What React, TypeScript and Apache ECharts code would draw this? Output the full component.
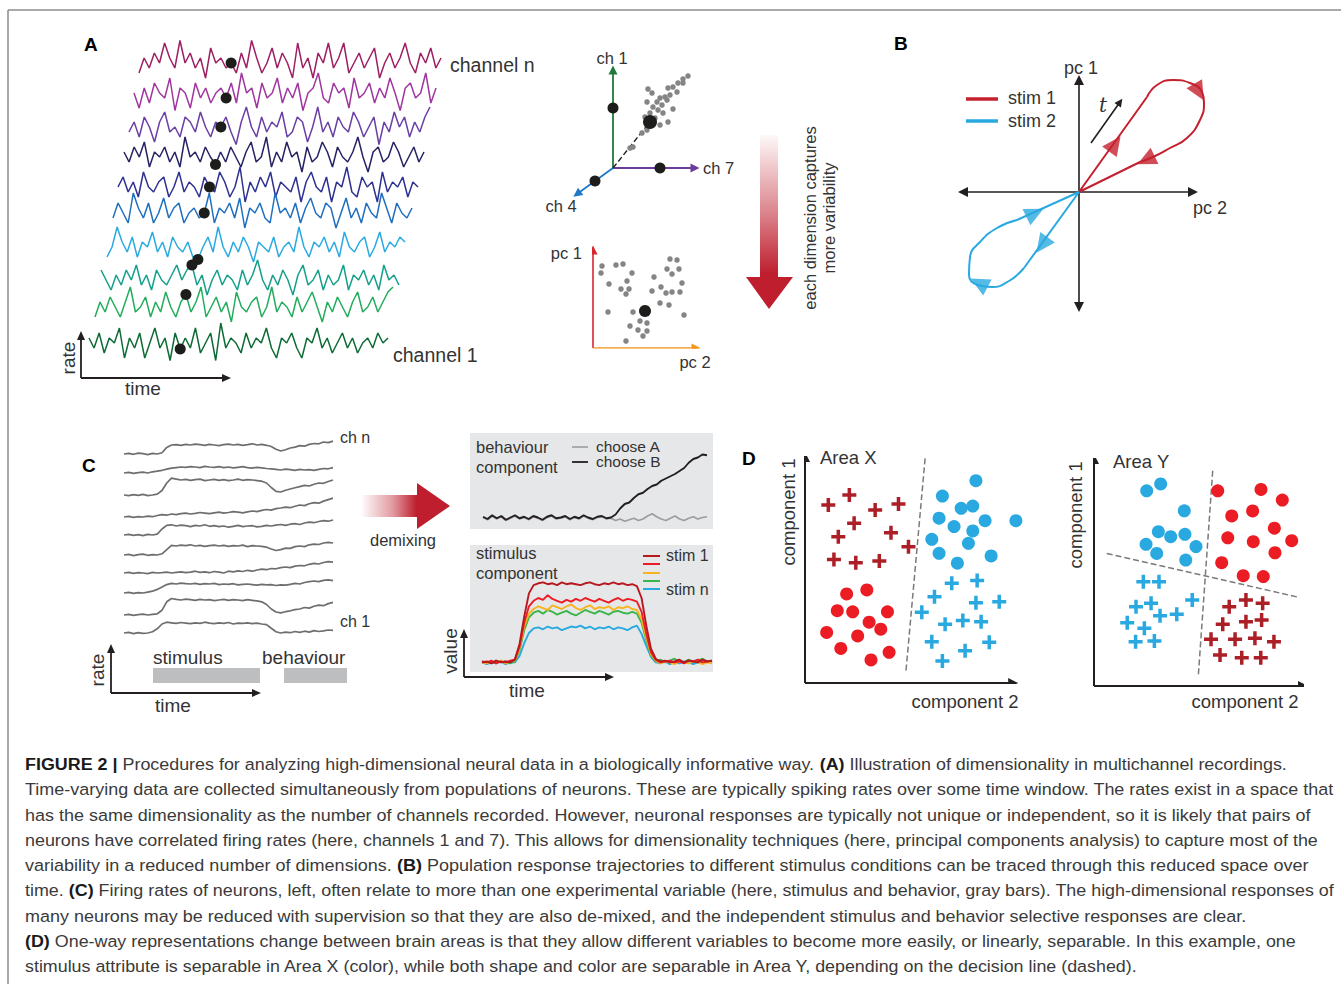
import React, { useEffect, useRef } from 'react';
import * as echarts from 'echarts';

const FONT = '"Liberation Sans", Arial, Helvetica, sans-serif';
const INK = '#333333';

// ---------------- DATA ----------------
// Panel A: firing rates of ten channels (channel n at top ... channel 1 at bottom), 0-10 scale
const chA0 = [3,6,4,7,5,9,6,4,9.5,5, 7,4,6,2,8,5,6,4,5,3, 7,4,9.5,6,3,5,8,4,7,5, 2,9,4,6,2,7,5,9,4,6, 9,3,5,7,4,6,8,2,5,7, 4,6,9,5,3,7,5,8,4,6];
const chA1 = [5,2,6,3,7,5,4,8,1.5,6, 5,2,7,4,6,3,5,6,4,7, 3,9,5,6,2,7,4,5,8,3, 6,4,7,1.5,5,6,9,4,3,7, 5,6,2,8,4,5,7,3,6,4, 8,5,1.5,6,7,4,5,9,3,6];
const chA2 = [4,6,3,7,5,2,6,8,4,5, 3,7,6,4,8,5,3,6,5,7, 4,1.5,6,9,5,3,7,4,6,5, 8,3,4,7,6,2,5,9,4,6, 3,7,5,4,8,6,3,5,7,1.5, 6,4,8,5,7,3,6,4,7,9];
const chA3 = [6,4,7,5,8,3,6,5,7,4, 6,3,9,5,6,4,7,5,3.5,6, 4,7,5,3,6,8,4,5,9,3, 6,4,8,5,6,2,7,4,5,8, 6,3,7,5,4,6,9,5,2,6, 7,4,5,8,6,3,5,7,4,6];
const chA4 = [5,7,4,6,3,8,5,4,6,7, 3,5,8,4,6,5,3,7,5,4, 8,6,3,5,9,2,6,4,7,5, 8,3,6,5,4,7,2,6,8,5, 4,7,2,6,5,9,4,3,7,5, 6,2,8,4,6,5,7,3,6,5];
const chA5 = [4,7,5,3,9,6,4,7,3,5, 8,4,6,7,3,5,6,4,5,9, 3,6,5,7,4,8,2,6,5,7, 4,3,9,5,6,4,7,3,6,8, 5,4,7,6,2,5,8,4,6,3, 7,5,4,9,6,3,7,5,4,6];
const chA6 = [3,5,9,6,4,7,3,6,5,8, 4,6,3,7,5,4,6,3,2.5,5, 7,4,9,5,3,6,4,7,5,2, 6,5,4,7,3,5,6,4,9,5, 3,6,5,7,4,6,3,8,5,4, 6,7,3,5,8,4,6,5,7,6];
const chA7 = [7,5,3,6,4,7,5,8,4,6, 3,7,5,4,6,8,5,7,8,4, 6,2,5,7,4,6,5,3,7,4, 6,9,5,3,6,4,7,5,2,6, 8,4,5,7,3,6,4,5,8,3, 6,5,7,4,6,3,8,5,6,4];
const chA8 = [3,6,4,7,5,3,6,9,4,5, 7,3,6,4,8,5,3,6,7.5,4, 6,9,3,5,7,4,6,2,8,5, 4,6,7,3,5,9,4,6,5,3, 7,4,6,8,5,2,6,4,7,5, 3,6,8,4,5,7,4,6,8,9];
const chA9 = [6,4,7,3,6,5,8,2,6,4, 7,2,5,8,4,6,1.5,7,3.8,6, 4,8,3,5,7,1.5,9,4,6,5, 3,7,4,6,5,8,4,2,6,5, 7,4,2,6,5,8,4,6,3,5, 7,4,6,3,5,6,4,7,5,6];
const channelsA = [chA0, chA1, chA2, chA3, chA4, chA5, chA6, chA7, chA8, chA9];
const dotIndexA = 18;
const dotValueA = [5, 4, 5, 3.5, 5, 5, 2.5, 8, 7.5, 3.8];

// Panel A: state space (ch1 / ch7 / ch4) projection
const cloud3d = [[75,92],[70,89],[65,85],[70,85],[60,81],[55,80],[64,76],[57,73],[52,71],[47,70],[54,68],[35,79],[39,75],[34,66],[44,66],[49,63],[40,61],[45,58],[60,59],[50,55],[37,55],[32,51],[42,50],[47,43],[55,46],[34,38],[29,35],[20,21],[17,20]];
const chDots3d = [[0, 60], [47, 0], [-18, -13]];
const bigDot3d = [[37, 46]];
const pcCloud = [[9,82],[23,83],[30,84],[39,75],[8,75],[16,64],[34,67],[28,59],[36,59],[33,54],[15,36],[77,89],[84,88],[74,79],[86,79],[79,74],[61,71],[89,65],[68,61],[59,57],[73,55],[79,56],[87,56],[67,45],[76,43],[91,33],[40,36],[37,22],[47,27],[54,25],[45,18],[54,17],[50,12],[33,7]];
const pcDot = [[52, 37]];

// Panel B: population trajectories in (pc 2, pc 1)
const stim1Legs = [[61, 30], [0, 0], [68, 95]];
const stim1Loop = [[68,95],[78,107],[94,112],[111,109],[123,100],[125,89],[121,72],[108,54],[91,44],[74,35],[61,30]];
const stim2Legs = [[-62, -28], [0, 0], [-55, -76]];
const stim2Loop = [[-55,-76],[-70,-89],[-87,-95],[-101,-93],[-110,-83],[-109,-65],[-99,-50],[-82,-36],[-62,-28]];
const stim1Heads = [[36, 48, -36], [120, 100, -150], [67, 32, 116]];
const stim2Heads = [[-37, -53, 144], [-100, -91, 62], [-44, -21, -64]];
const timeArrow = [[12, 49], [41, 90]];

// Panel C: ten mixed-selectivity neurons (ch n at top ... ch 1 at bottom)
const chC0 = [3,3.2,2.9,3.3,3.1,2.8,3.2,3.0,3.4,5.2, 6.0,6.1,5.9,6.2,6.0,6.3,6.1,5.9,6.2,6.0, 5.8,6.1,6.3,6.0,6.2,5.9,6.1,6.4,6.0,6.2, 5.9,5.5,4.6,4.0,4.4,5.0,5.3,5.8,5.6,6.2, 6.5,6.4,7.0,6.8,7.3];
const chC1 = [3,3.2,2.9,3.1,3.3,3.0,3.4,3.6,3.9,4.3, 4.6,4.8,5.0,4.9,5.1,5.0,4.8,5.2,5.0,4.9, 5.1,4.8,5.0,4.7,4.9,5.1,4.8,4.6,4.9,4.7, 4.5,4.4,4.2,4.0,4.3,4.1,3.9,4.2,4.0,4.1, 3.9,4.2,4.5,4.4,4.8];
const chC2 = [3.0,2.8,3.1,2.9,3.2,2.8,3.0,3.3,4.5,7.0, 8.6,8.3,8.0,8.2,7.9,8.1,8.3,7.8,8.0,8.2, 7.9,8.1,7.8,8.0,8.3,7.9,8.1,8.0,7.8,7.6, 7.0,5.5,4.2,4.0,4.6,5.0,5.4,5.8,6.2,6.0, 6.6,7.0,6.9,7.5,8.0];
const chC3 = [3.0,3.2,2.9,3.1,3.0,3.3,3.1,3.5,3.8,3.6, 4.0,3.8,4.1,4.3,4.0,4.2,4.5,4.3,4.1,4.4, 4.6,4.3,4.5,4.8,4.6,4.4,4.7,5.0,4.8,5.2, 5.5,5.3,5.8,6.0,6.3,6.1,6.6,7.0,6.8,7.4, 7.8,7.6,8.3,8.8,9.3];
const chC4 = [3.0,3.2,2.9,3.1,2.8,3.2,3.0,3.3,5.0,6.2, 6.4,6.0,6.3,6.1,5.8,6.2,6.0,6.4,5.9,6.1, 5.8,6.0,5.6,5.9,6.2,5.8,6.0,6.1,5.7,5.9, 6.2,6.0,6.3,6.5,6.2,6.6,6.8,6.5,7.0,7.3, 7.1,7.5,7.8,7.6,8.0];
const chC5 = [3.0,3.2,2.8,3.1,3.3,2.9,3.1,3.0,3.4,4.8, 6.2,6.0,6.3,6.1,6.4,6.0,6.2,5.9,6.1,6.3, 6.0,6.2,5.9,6.1,6.0,6.3,5.8,6.1,6.0,5.9, 5.6,5.0,4.5,4.8,5.3,5.2,5.8,6.0,5.8,6.4, 6.6,6.5,7.0,7.2,7.0];
const chC6 = [3.0,3.2,2.9,3.1,3.0,2.8,3.2,3.0,3.1,3.3, 3.0,3.2,3.4,3.1,3.3,3.6,3.2,3.4,3.1,3.5, 3.3,3.0,3.6,3.4,3.7,3.5,3.9,3.6,4.0,4.3, 4.1,4.5,4.4,4.8,5.0,4.8,5.3,5.5,5.4,5.9, 6.2,6.0,6.5,6.8,6.6];
const chC7 = [3.0,3.2,2.9,3.1,3.0,3.3,3.6,4.2,5.0,5.8, 6.2,6.0,6.3,6.1,6.0,6.2,5.9,6.1,6.0,6.2, 5.8,6.0,5.9,6.1,5.7,5.9,6.0,5.8,5.6,5.9, 5.7,5.8,5.5,5.7,5.6,5.9,6.2,6.0,6.5,6.8, 7.0,6.8,7.2,7.4,7.1];
const chC8 = [3.0,3.2,2.9,3.1,3.3,3.0,3.2,3.4,4.6,7.4, 8.5,8.2,8.0,8.3,8.1,7.9,8.2,8.0,8.1,7.8, 8.0,8.2,7.9,8.1,8.0,7.8,8.1,7.9,7.7,7.4, 6.5,5.0,4.0,3.7,4.1,4.4,4.8,5.0,5.5,5.3, 5.9,6.3,6.1,6.8,7.2];
const chC9 = [3.0,3.2,2.8,3.1,2.9,3.0,3.4,4.4,6.0,6.6, 6.4,6.2,6.5,6.3,6.1,6.4,6.2,6.6,6.3,6.1, 6.4,6.2,6.5,6.0,6.3,6.2,6.4,6.1,6.3,6.0, 5.8,4.6,3.4,3.0,3.3,3.1,3.5,3.2,3.6,3.3, 3.8,3.5,3.7,4.0,3.9];
const channelsC = [chC0, chC1, chC2, chC3, chC4, chC5, chC6, chC7, chC8, chC9];

// Panel C: demixed components
const chooseA = [1.0,0.7,1.2,0.8,1.1,0.6,0.9,1.2,0.8,1.0, 0.7,1.1,0.9,0.6,1.0,1.2,0.8,0.9,1.1,0.7, 1.0,0.8,1.2,0.9,0.7,1.0,1.1,0.8,0.9,0.6, 0.8,0.5,0.7,0.9,0.6,0.8,1.2,1.5,1.1,0.8, 0.6,0.9,1.2,0.8,0.6,0.9,1.1,0.8,1.0,1.1];
const chooseB = [1.1,0.8,1.3,0.9,1.2,0.7,1.0,1.3,0.9,1.1, 0.8,1.2,1.0,0.7,1.1,1.3,0.9,1.0,1.2,0.8, 1.1,0.9,1.3,1.0,0.8,1.1,1.2,0.9,1.0,1.4, 2.2,2.8,3.0,3.6,4.1,4.3,4.8,5.2,5.4,5.9, 6.2,6.5,6.8,7.2,7.6,8.3,8.8,9.0,9.4,9.3];
const stimA = [0.5,0.6,0.4,0.7,0.5,0.6,0.5,0.8,2.5,5.5, 8.0,8.9,9.1,9.2,9.0,9.1,8.9,9.2,9.0,9.1, 9.0,8.9,9.1,9.2,9.0,8.9,9.1,9.0,9.2,9.0, 9.1,8.9,9.0,8.8,7.5,4.5,2.0,0.9,0.6,0.7, 0.5,0.6,0.8,0.5,0.7,0.6,0.5,0.8,0.6,0.7];
const stimB = [0.6,0.5,0.7,0.4,0.6,0.5,0.7,0.8,2.2,4.8, 6.6,7.2,7.5,7.3,7.8,7.4,7.2,7.0,7.3,7.1, 7.4,7.2,7.5,7.3,7.1,7.4,7.2,7.0,7.3,7.5, 7.2,7.4,7.3,7.1,6.0,3.6,1.6,0.8,0.5,0.6, 0.7,0.5,0.6,0.4,0.7,0.6,0.8,0.5,0.6,0.7];
const stimC = [0.5,0.4,0.6,0.5,0.7,0.4,0.6,0.7,2.0,4.4, 5.8,6.3,6.6,6.4,6.2,6.7,6.5,6.3,6.6,6.8, 6.4,6.2,6.5,6.7,6.3,6.5,6.4,6.6,6.2,6.5, 6.4,6.6,6.3,6.2,5.2,3.2,1.4,0.7,0.4,0.6, 0.5,0.3,0.6,0.5,0.4,0.6,0.5,0.3,0.5,0.4];
const stimD = [0.6,0.5,0.4,0.7,0.5,0.6,0.4,0.6,1.8,4.0, 5.4,5.9,6.1,5.8,6.2,6.0,5.7,5.9,6.1,5.8, 5.6,5.9,6.2,6.0,5.8,6.1,5.9,5.7,6.0,6.1, 5.9,5.8,6.0,5.8,4.8,2.9,1.3,0.6,0.8,0.5, 0.7,0.9,0.6,0.5,0.8,0.6,0.7,0.9,0.6,0.7];
const stimE = [0.5,0.3,0.5,0.4,0.6,0.3,0.5,0.5,1.2,2.6, 3.7,4.2,4.3,4.1,4.4,4.2,4.3,4.0,4.2,4.4, 4.3,4.5,4.2,4.4,4.1,4.3,4.2,4.4,4.1,4.3, 4.2,4.0,4.3,4.5,3.6,2.3,1.1,0.5,0.4,0.6, 0.3,0.5,0.4,0.6,0.5,0.3,0.5,0.4,0.6,0.5];

// Panel D: Area X (component 2, component 1)
const areaXRedPlus = [[11.2,78.8],[21.3,83.2],[33.7,76.5],[44.9,79.2],[23.6,70.7],[16,64.7],[41.3,66.5],[49.7,60.3],[13.9,54.7],[24.4,53.2],[35.7,54]];
const areaXRedDot = [[20,39.4],[29.7,41.2],[15.5,32],[22.9,31.5],[39.6,31.5],[30.8,26.9],[36.4,23.8],[10.4,22.4],[25.3,20.8],[17.2,15.3],[40.4,13.6],[31.7,10.2]];
const areaXBlueDot = [[82.1,89.5],[66,82.7],[75,77.3],[80.6,78.3],[64.4,72.9],[86.5,71.8],[101.3,71.8],[71.6,69.2],[80.6,67.3],[60.9,63.6],[78.5,61.8],[64.4,57.4],[73.2,53],[89.4,56.2]];
const areaXBluePlus = [[70.5,44.1],[82.7,45.3],[62.2,38.2],[82.1,35.5],[93.3,36],[56.1,31.3],[67.3,26],[75.8,27.6],[84.6,27.1],[60.9,18.3],[88.5,18],[76.9,14.3],[66,9.7]];
const areaXBoundary = [[57.7,99.4],[48.4,4.3]];
// Panel D: Area Y
const areaYBlueDot = [[25.2,86],[31.9,89],[43.2,77.2],[30.8,68],[36.7,65.8],[43.5,66.8],[24.9,62.4],[48.8,61.4],[30,58.4],[43.9,55.5]];
const areaYRedDot = [[59.2,86],[79.9,86.6],[90.1,81.9],[65.9,74.9],[75.9,77.1],[86.3,69.5],[64,65.3],[76.2,63.6],[94.6,64],[86.6,58.7],[61.1,54.3],[71.4,48.6],[81,48.2]];
const areaYBluePlus = [[23.6,45.9],[31.1,45.9],[20.1,34.9],[27.3,36.4],[47,37.9],[31.6,31],[39.6,31.6],[15.9,27.9],[24.1,25.4],[19.9,19.5],[28.9,19.8]];
const areaYRedPlus = [[64.7,34.9],[72.7,37.9],[80.7,36.4],[61.6,27.2],[72.7,28.3],[80.2,29.1],[56,20.6],[67.5,20.6],[77,21],[86.1,19.5],[60.3,13.7],[70.7,12.5],[79.8,12.5]];
const areaYBoundary1 = [[56.8,94.8],[49.9,4.4]];
const areaYBoundary2 = [[6.1,58.4],[97.8,39.1]];

// Caption
const captionLines = [
  '{b|FIGURE 2 |} Procedures for analyzing high-dimensional neural data in a biologically informative way. {b|(A)} Illustration of dimensionality in multichannel recordings.',
  'Time-varying data are collected simultaneously from populations of neurons. These are typically spiking rates over some time window. The rates exist in a space that',
  'has the same dimensionality as the number of channels recorded. However, neuronal responses are typically not unique or independent, so it is likely that pairs of',
  'neurons have correlated firing rates (here, channels 1 and 7). This allows for dimensionality techniques (here, principal components analysis) to capture most of the',
  'variability in a reduced number of dimensions. {b|(B)} Population response trajectories to different stimulus conditions can be traced through this reduced space over',
  'time. {b|(C)} Firing rates of neurons, left, often relate to more than one experimental variable (here, stimulus and behavior, gray bars). The high-dimensional responses of',
  'many neurons may be reduced with supervision so that they are also de-mixed, and the independent stimulus and behavior selective responses are clear.',
  '{b|(D)} One-way representations change between brain areas is that they allow different variables to become more easily, or linearly, separable. In this example, one',
  'stimulus attribute is separable in Area X (color), while both shape and color are separable in Area Y, depending on the decision line (dashed).',
];

// ---------------- LAYOUT / STYLE ----------------
const A_COLORS = ['#9e1f63', '#a0369f', '#6a3fa6', '#262364', '#2e3192', '#1f6fc0', '#29abe2', '#14a08a', '#22ad5c', '#0d6b35'];
const A_START = [139, 134, 129, 124, 118, 113, 107, 101, 95, 89];
const A_END = [441, 436, 430, 424, 418, 412, 405, 399, 393, 388];
const A_MID = [63, 93, 127, 157, 187, 213, 247, 280, 307, 343];
const A_H = 50;
const C_BASE = [454, 473, 495, 517, 535, 555, 573, 593, 615, 633];
const CAP_END = [1287, 1335, 1312, 1320, 1309, 1335, 1247, 1297, 1140];
const CAP_Y = [764, 789, 815, 840, 865, 890, 916, 941, 966];
const PLUS = 'path://M3,0H5V3H8V5H5V8H3V5H0V3H3Z';
const RED = '#c4202e';
const BLUE = '#29a9e0';
const DOT_RED = '#ec1c24';
const PLUS_RED = '#ad1f26';

function T(x: number, y: number, text: string, size: number, o: any = {}) {
  return {
    type: 'text', x, y, z: 100, rotation: o.rot || 0,
    style: {
      text, fontSize: size, fontFamily: o.family || FONT,
      fontWeight: o.bold ? 'bold' : 'normal', fontStyle: o.italic ? 'italic' : 'normal',
      fill: o.color || INK, textAlign: o.align || 'left', textVerticalAlign: 'middle',
    },
  };
}

function arrow(x1: number, y1: number, x2: number, y2: number, color: string, w: number, hl = 9, hw = 4) {
  const a = Math.atan2(y2 - y1, x2 - x1);
  const bx = x2 - hl * Math.cos(a), by = y2 - hl * Math.sin(a);
  const px = -Math.sin(a) * hw, py = Math.cos(a) * hw;
  return [
    { type: 'line', z: 50, shape: { x1, y1, x2: bx, y2: by }, style: { stroke: color, lineWidth: w } },
    { type: 'polygon', z: 50, shape: { points: [[x2, y2], [bx + px, by + py], [bx - px, by - py]] }, style: { fill: color } },
  ];
}

function hline(x1: number, x2: number, y: number, color: string, w: number) {
  return { type: 'line', z: 50, shape: { x1, y1: y, x2, y2: y }, style: { stroke: color, lineWidth: w } };
}

function buildOption() {
  const grid: any[] = [], xAxis: any[] = [], yAxis: any[] = [], series: any[] = [], graphic: any[] = [];
  const addGrid = (left: number, top: number, width: number, height: number, xa: any, ya: any) => {
    const i = grid.length;
    grid.push({ left, top, width, height, show: false, containLabel: false });
    xAxis.push({ gridIndex: i, show: false, ...xa });
    yAxis.push({ gridIndex: i, show: false, ...ya });
    return i;
  };
  const val = (min: number, max: number) => ({ type: 'value', min, max, splitLine: { show: false } });
  const cat = (n: number) => ({ type: 'category', boundaryGap: false, data: Array.from({ length: n }, (_, k) => k) });
  const line = (g: number, data: any[], color: string, width: number, extra: any = {}) =>
    series.push({ type: 'line', xAxisIndex: g, yAxisIndex: g, data, symbol: 'none', showSymbol: false, lineStyle: { color, width }, silent: true, z: 3, ...extra });
  const scatter = (g: number, data: any[], color: string, size: any, symbol = 'circle', z = 5) =>
    series.push({ type: 'scatter', xAxisIndex: g, yAxisIndex: g, data, symbol, symbolSize: size, itemStyle: { color, opacity: 1 }, silent: true, z });
  const seg = (g: number, pts: number[][], color: string, width: number, sym: string[] = ['none', 'triangle'], symSize = 9, type = 'solid') =>
    series.push({ type: 'lines', coordinateSystem: 'cartesian2d', xAxisIndex: g, yAxisIndex: g, data: [{ coords: pts }], symbol: sym, symbolSize: symSize, lineStyle: { color, width, type, opacity: 1, curveness: 0 }, silent: true, z: 4 });

  // ---- border ----
  graphic.push({ type: 'line', z: 1, shape: { x1: 8, y1: 10, x2: 1341, y2: 10 }, style: { stroke: '#8c8c8c', lineWidth: 1.5 } });
  graphic.push({ type: 'line', z: 1, shape: { x1: 8, y1: 10, x2: 8, y2: 984 }, style: { stroke: '#8c8c8c', lineWidth: 1.5 } });

  // ---- Panel A: traces ----
  channelsA.forEach((arr, i) => {
    const g = addGrid(A_START[i], A_MID[i] - A_H / 2, A_END[i] - A_START[i], A_H, cat(arr.length), val(0, 10));
    line(g, arr, A_COLORS[i], 1.5);
    scatter(g, [[dotIndexA, dotValueA[i]]], '#1d1d1b', 11, 'circle', 6);
  });
  graphic.push(T(84, 44, 'A', 19, { bold: true, color: '#000' }));
  graphic.push(T(450, 65, 'channel n', 19.5));
  graphic.push(T(393, 355, 'channel 1', 19.5));
  graphic.push(...arrow(81, 378, 81, 331, '#231f20', 1.8, 9, 4));
  graphic.push(...arrow(81, 378, 231, 378, '#231f20', 1.8, 9, 4));
  graphic.push(T(68, 358, 'rate', 19, { align: 'center', rot: Math.PI / 2 }));
  graphic.push(T(143, 388, 'time', 19, { align: 'center' }));

  // ---- Panel A: 3D state space ----
  const g3 = addGrid(563, 18, 200, 200, val(-50, 150), val(-50, 150));
  seg(g3, [[0, 0], [0, 98]], '#1e7a3c', 1.8);
  seg(g3, [[0, 0], [82, 0]], '#6a3d9a', 1.8);
  seg(g3, [[0, 0], [-36, -26]], '#1f78c8', 1.8);
  seg(g3, [[0, 0], [40, 50]], '#231f20', 1.4, ['none', 'none'], 1, 'dashed');
  scatter(g3, cloud3d, '#858585', 5.5);
  scatter(g3, chDots3d, '#1d1d1b', 11, 'circle', 6);
  scatter(g3, bigDot3d, '#1d1d1b', 14, 'circle', 6);
  graphic.push(T(612, 58, 'ch 1', 16.5, { align: 'center' }));
  graphic.push(T(703, 168, 'ch 7', 16.5));
  graphic.push(T(561, 206, 'ch 4', 16.5, { align: 'center' }));

  // ---- Panel A: PC space ----
  const gp = addGrid(593, 245, 110, 103, val(0, 110), val(0, 103));
  seg(gp, [[0, 0], [0, 98]], '#d7262b', 1.6);
  seg(gp, [[0, 0], [103, 0]], '#f7941d', 1.6);
  scatter(gp, pcCloud, '#858585', 5.5);
  scatter(gp, pcDot, '#1d1d1b', 12, 'circle', 6);
  graphic.push(T(582, 253, 'pc 1', 16.5, { align: 'right' }));
  graphic.push(T(695, 362, 'pc 2', 16.5, { align: 'center' }));

  // big vertical gradient arrow
  graphic.push({
    type: 'polygon', z: 10,
    shape: { points: [[760, 135], [778, 135], [778, 277], [793, 277], [769, 309], [746, 277], [760, 277]] },
    style: { fill: { type: 'linear', x: 0, y: 0, x2: 0, y2: 1, colorStops: [
      { offset: 0, color: 'rgba(190,30,45,0.03)' }, { offset: 0.45, color: 'rgba(190,30,45,0.55)' }, { offset: 0.8, color: '#be1e2d' }, { offset: 1, color: '#be1e2d' }] } },
  });
  graphic.push(T(810, 218, 'each dimension captures', 16.5, { align: 'center', rot: Math.PI / 2 }));
  graphic.push(T(829, 218, 'more variability', 16.5, { align: 'center', rot: Math.PI / 2 }));

  // ---- Panel B ----
  const gb = addGrid(959, 70, 250, 250, val(-120, 130), val(-128, 122));
  seg(gb, [[-116, 0], [114, 0]], '#231f20', 1.6, ['triangle', 'triangle'], 10);
  seg(gb, [[0, -115], [0, 112]], '#231f20', 1.6, ['triangle', 'triangle'], 10);
  line(gb, stim1Loop, RED, 2, { smooth: 0.5, z: 5 });
  line(gb, stim1Legs, RED, 2, { z: 5 });
  line(gb, stim2Loop, BLUE, 2, { smooth: 0.5, z: 5 });
  line(gb, stim2Legs, BLUE, 2, { z: 5 });
  series.push({ type: 'scatter', xAxisIndex: gb, yAxisIndex: gb, symbol: 'triangle', symbolSize: [18, 19], silent: true, z: 6, itemStyle: { color: RED },
    data: stim1Heads.map(h => ({ value: [h[0], h[1]], symbolRotate: h[2] })) });
  series.push({ type: 'scatter', xAxisIndex: gb, yAxisIndex: gb, symbol: 'triangle', symbolSize: [18, 19], silent: true, z: 6, itemStyle: { color: BLUE },
    data: stim2Heads.map(h => ({ value: [h[0], h[1]], symbolRotate: h[2] })) });
  seg(gb, timeArrow, '#231f20', 1.6, ['none', 'triangle'], 8);
  graphic.push(T(894, 43, 'B', 19, { bold: true, color: '#000' }));
  graphic.push(T(1081, 68, 'pc 1', 18, { align: 'center' }));
  graphic.push(T(1193, 208, 'pc 2', 18));
  graphic.push(hline(966, 998, 99, RED, 3.5));
  graphic.push(hline(966, 998, 121, BLUE, 3.5));
  graphic.push(T(1008, 98, 'stim 1', 18));
  graphic.push(T(1008, 121, 'stim 2', 18));
  graphic.push(T(1103, 105, 't', 20, { align: 'center', italic: true, family: '"DejaVu Serif", "Liberation Serif", serif' }));

  // ---- Panel C: neurons ----
  channelsC.forEach((arr, i) => {
    const g = addGrid(124, C_BASE[i] - 21, 209, 30, cat(arr.length), val(0, 10));
    line(g, arr, '#6d6e71', 1.7);
  });
  graphic.push(T(82, 465, 'C', 19, { bold: true, color: '#000' }));
  graphic.push(T(340, 437, 'ch n', 16));
  graphic.push(T(340, 621, 'ch 1', 16));
  graphic.push(...arrow(111, 693, 111, 644, '#231f20', 1.8, 9, 4));
  graphic.push(...arrow(111, 693, 261, 693, '#231f20', 1.8, 9, 4));
  graphic.push(T(97, 670, 'rate', 19, { align: 'center', rot: Math.PI / 2 }));
  graphic.push(T(173, 705, 'time', 19, { align: 'center' }));
  graphic.push(T(153, 657, 'stimulus', 19));
  graphic.push(T(262, 657, 'behaviour', 19));
  graphic.push({ type: 'rect', z: 2, shape: { x: 153, y: 668, width: 107, height: 15 }, style: { fill: '#bcbec0' } });
  graphic.push({ type: 'rect', z: 2, shape: { x: 284, y: 668, width: 63, height: 15 }, style: { fill: '#bcbec0' } });

  // demixing arrow
  graphic.push({
    type: 'polygon', z: 10,
    shape: { points: [[362, 495], [417, 495], [417, 483], [450, 506], [417, 529], [417, 517], [362, 517]] },
    style: { fill: { type: 'linear', x: 0, y: 0, x2: 1, y2: 0, colorStops: [
      { offset: 0, color: 'rgba(190,30,45,0.02)' }, { offset: 0.35, color: 'rgba(190,30,45,0.45)' }, { offset: 0.62, color: '#be1e2d' }, { offset: 1, color: '#be1e2d' }] } },
  });
  graphic.push(T(403, 540, 'demixing', 16.5, { align: 'center' }));

  // behaviour component
  graphic.push({ type: 'rect', z: 1, shape: { x: 470, y: 433, width: 243, height: 96 }, style: { fill: '#e6e7e8' } });
  const gbh = addGrid(483, 450, 224, 75, cat(chooseB.length), val(0, 10));
  line(gbh, chooseA, '#9d9d9d', 1.7);
  line(gbh, chooseB, '#231f20', 1.9);
  graphic.push(T(476, 447, 'behaviour', 16.5));
  graphic.push(T(476, 467, 'component', 16.5));
  graphic.push(hline(572, 588, 447, '#9d9d9d', 1.6));
  graphic.push(hline(572, 588, 462, '#231f20', 1.8));
  graphic.push(T(596, 446, 'choose A', 15.5));
  graphic.push(T(596, 461, 'choose B', 15.5));

  // stimulus component
  graphic.push({ type: 'rect', z: 1, shape: { x: 470, y: 545, width: 243, height: 127 }, style: { fill: '#e6e7e8' } });
  const gst = addGrid(482, 575, 230, 92, cat(stimA.length), val(0, 10));
  const stimColors = ['#27aae1', '#39b54a', '#f9b31c', '#ed1c24', '#b7181f'];
  [stimE, stimD, stimC, stimB, stimA].forEach((arr, k) => line(gst, arr, stimColors[k], 1.9));
  graphic.push(T(476, 553, 'stimulus', 16.5));
  graphic.push(T(476, 573, 'component', 16.5));
  graphic.push(hline(643, 660, 556, '#b7181f', 2));
  graphic.push(hline(643, 660, 564, '#ed1c24', 2));
  graphic.push(hline(643, 660, 573, '#f9b31c', 2));
  graphic.push(hline(643, 660, 581, '#39b54a', 2));
  graphic.push(hline(643, 660, 589, '#27aae1', 2));
  graphic.push(T(666, 555, 'stim 1', 16));
  graphic.push(T(666, 589, 'stim n', 16));
  graphic.push(...arrow(464, 677, 464, 629, '#231f20', 1.8, 9, 4));
  graphic.push(...arrow(464, 677, 614, 677, '#231f20', 1.8, 9, 4));
  graphic.push(T(450, 651, 'value', 19, { align: 'center', rot: Math.PI / 2 }));
  graphic.push(T(527, 690, 'time', 19, { align: 'center' }));

  // ---- Panel D: Area X ----
  const gx = addGrid(805, 457, 229, 226, val(0, 110), val(0, 100));
  seg(gx, [[0, 0], [100, 0]], '#231f20', 2, ['none', 'triangle'], 10);
  seg(gx, [[0, 0], [0, 100]], '#231f20', 2, ['none', 'triangle'], 10);
  seg(gx, areaXBoundary, '#7a7a7a', 1.5, ['none', 'none'], 1, 'dashed');
  scatter(gx, areaXRedPlus, PLUS_RED, 14, PLUS);
  scatter(gx, areaXRedDot, DOT_RED, 13);
  scatter(gx, areaXBlueDot, BLUE, 13);
  scatter(gx, areaXBluePlus, BLUE, 14, PLUS);
  graphic.push(T(742, 458, 'D', 19, { bold: true, color: '#000' }));
  graphic.push(T(820, 457, 'Area X', 18.5));
  graphic.push(T(788, 512, 'component 1', 18.5, { align: 'center', rot: Math.PI / 2 }));
  graphic.push(T(965, 701, 'component 2', 18.5, { align: 'center' }));

  // ---- Panel D: Area Y ----
  const gy = addGrid(1094, 459, 209, 227, val(0, 100), val(0, 100));
  seg(gy, [[0, 0], [100, 0]], '#231f20', 2, ['none', 'triangle'], 10);
  seg(gy, [[0, 0], [0, 100]], '#231f20', 2, ['none', 'triangle'], 10);
  seg(gy, areaYBoundary1, '#7a7a7a', 1.5, ['none', 'none'], 1, 'dashed');
  seg(gy, areaYBoundary2, '#7a7a7a', 1.5, ['none', 'none'], 1, 'dashed');
  scatter(gy, areaYBlueDot, BLUE, 13);
  scatter(gy, areaYRedDot, DOT_RED, 13);
  scatter(gy, areaYBluePlus, BLUE, 14, PLUS);
  scatter(gy, areaYRedPlus, PLUS_RED, 14, PLUS);
  graphic.push(T(1113, 461, 'Area Y', 18.5));
  graphic.push(T(1075, 515, 'component 1', 18.5, { align: 'center', rot: Math.PI / 2 }));
  graphic.push(T(1245, 701, 'component 2', 18.5, { align: 'center' }));

  // ---- Caption ----
  const CAP_FONT = '"Liberation Sans", Arial, Helvetica, sans-serif';
  const CAP_SIZE = 17;
  const ctx = document.createElement('canvas').getContext('2d') as CanvasRenderingContext2D;
  const measure = (s: string) => {
    let w = 0, last = 0, m: RegExpExecArray | null;
    const re = /\{b\|([^}]*)\}/g;
    while ((m = re.exec(s))) {
      ctx.font = `${CAP_SIZE}px ${CAP_FONT}`;
      w += ctx.measureText(s.slice(last, m.index)).width;
      ctx.font = `bold ${CAP_SIZE}px ${CAP_FONT}`;
      w += ctx.measureText(m[1]).width;
      last = re.lastIndex;
    }
    ctx.font = `${CAP_SIZE}px ${CAP_FONT}`;
    w += ctx.measureText(s.slice(last)).width;
    return w;
  };
  captionLines.forEach((s, i) => {
    const w = measure(s);
    const sx = w > 0 ? (CAP_END[i] - 25) / w : 1;
    graphic.push({
      type: 'text', x: 25, y: CAP_Y[i], z: 100, scaleX: sx, scaleY: 1,
      style: {
        text: s, fontSize: CAP_SIZE, fontFamily: CAP_FONT, fill: '#3a3a3a', textVerticalAlign: 'middle', textAlign: 'left',
        rich: { b: { fontWeight: 'bold', fontSize: CAP_SIZE, fontFamily: CAP_FONT, fill: '#1a1a1a' } },
      },
    });
  });

  return { animation: false, backgroundColor: '#ffffff', grid, xAxis, yAxis, series, graphic };
}

export default function App() {
  const ref = useRef<HTMLDivElement>(null);
  useEffect(() => {
    if (!ref.current) return;
    const chart = echarts.init(ref.current, undefined, { renderer: 'svg' });
    chart.setOption(buildOption() as any);
    return () => chart.dispose();
  }, []);
  return <div ref={ref} style={{ position: 'absolute', left: 0, top: 0, width: 1341, height: 984, background: '#fff' }} />;
}
